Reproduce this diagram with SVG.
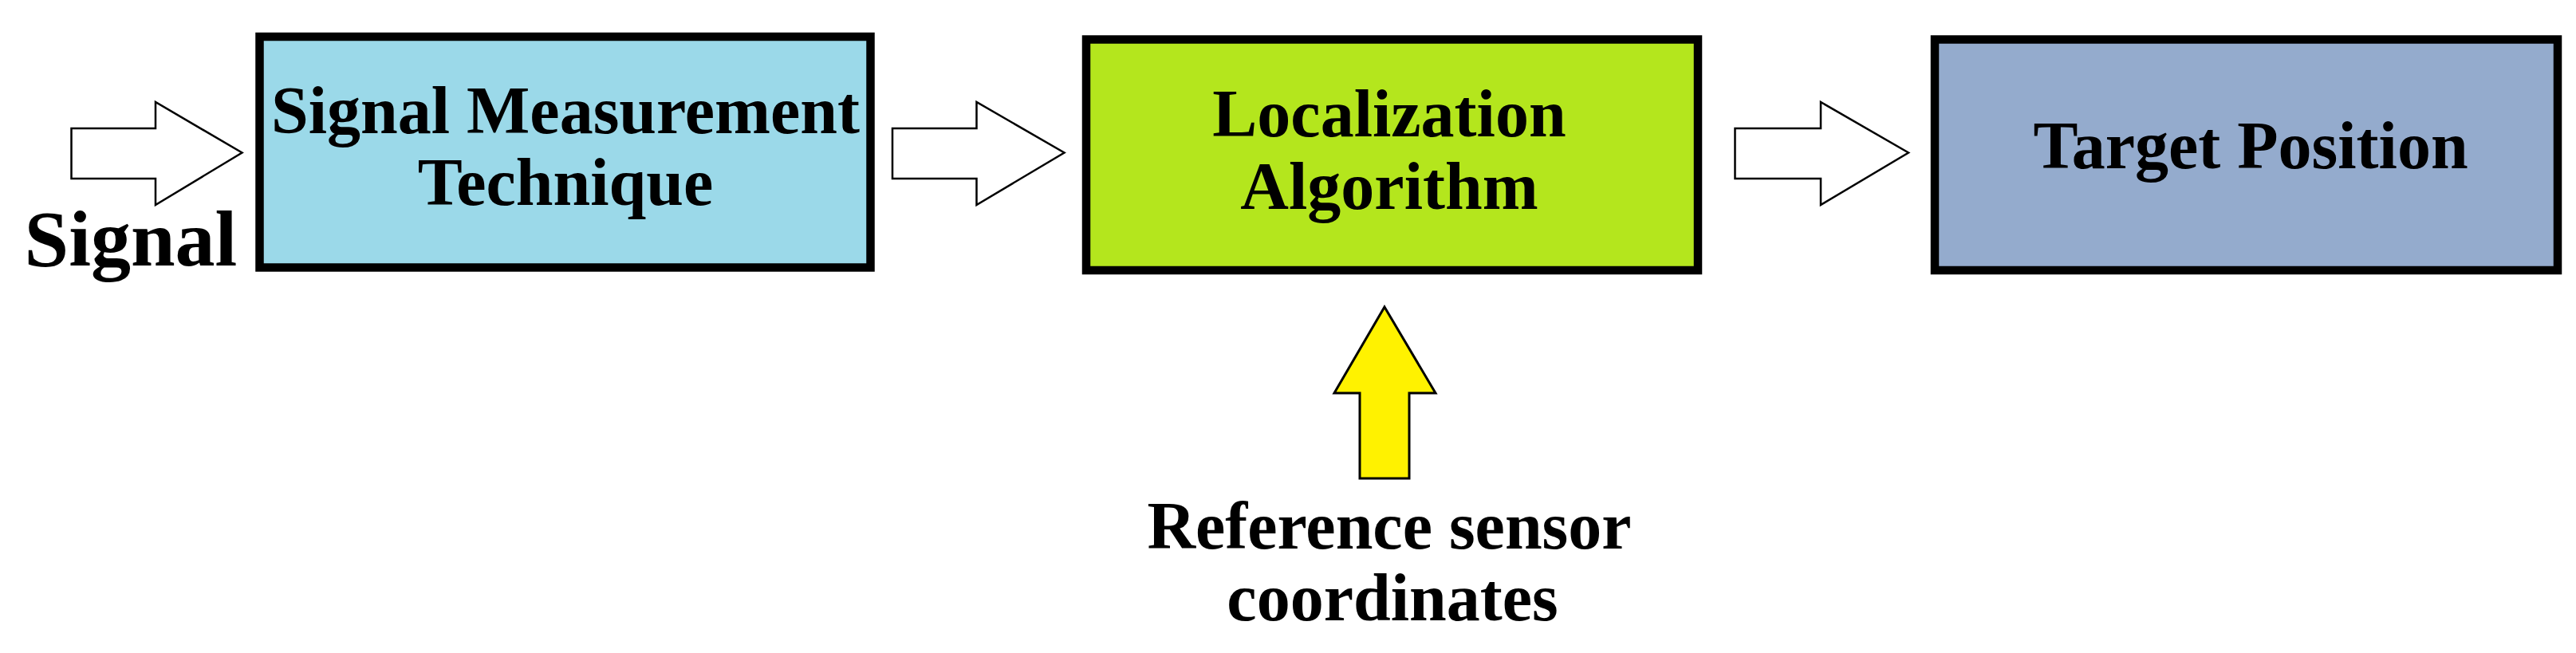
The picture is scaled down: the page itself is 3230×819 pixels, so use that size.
<svg xmlns="http://www.w3.org/2000/svg" width="3230" height="819" viewBox="0 0 3230 819">
<style>
.box{stroke:#000;stroke-width:10.5}
.t{font-family:"Liberation Serif","Times New Roman",serif;font-weight:bold;font-size:84px;fill:#000;text-anchor:middle}
.arr{fill:#fff;stroke:#000;stroke-width:2.5;stroke-linejoin:miter}
</style>
<rect width="3230" height="819" fill="#fff"/>
<g id="connectors">
<polygon id="arrow-in" class="arr" points="89.5,161 195,161 195,128 303.5,191.5 195,257 195,224 89.5,224"/>
<polygon id="arrow-1-2" class="arr" points="1119,161 1224.5,161 1224.5,128 1334.5,191.5 1224.5,257 1224.5,224 1119,224"/>
<polygon id="arrow-2-3" class="arr" points="2175.5,161 2283,161 2283,128 2393,191.5 2283,257 2283,224 2175.5,224"/>
<polygon id="arrow-ref" points="1736,385 1800,493 1767,493 1767,600 1705,600 1705,493 1673,493" fill="#fff200" stroke="#000" stroke-width="3"/>
</g>
<g id="signal-label">
<text class="t" x="164" y="333" style="font-size:100px">Signal</text>
</g>
<g id="node-measurement">
<rect class="box" x="325.5" y="46" width="766" height="289.5" fill="#9bd9e9"/>
<text class="t" x="709" y="167">Signal Measurement</text>
<text class="t" x="709" y="257">Technique</text>
</g>
<g id="node-localization">
<rect class="box" x="1362" y="49.5" width="767" height="289.5" fill="#b4e61d"/>
<text class="t" x="1742" y="171">Localization</text>
<text class="t" x="1742" y="262">Algorithm</text>
</g>
<g id="node-target">
<rect class="box" x="2426" y="49.5" width="781" height="289.5" fill="#94abcd"/>
<text class="t" x="2822" y="211">Target Position</text>
</g>
<g id="reference-label">
<text class="t" x="1742" y="688">Reference sensor</text>
<text class="t" x="1746" y="778">coordinates</text>
</g>
</svg>
